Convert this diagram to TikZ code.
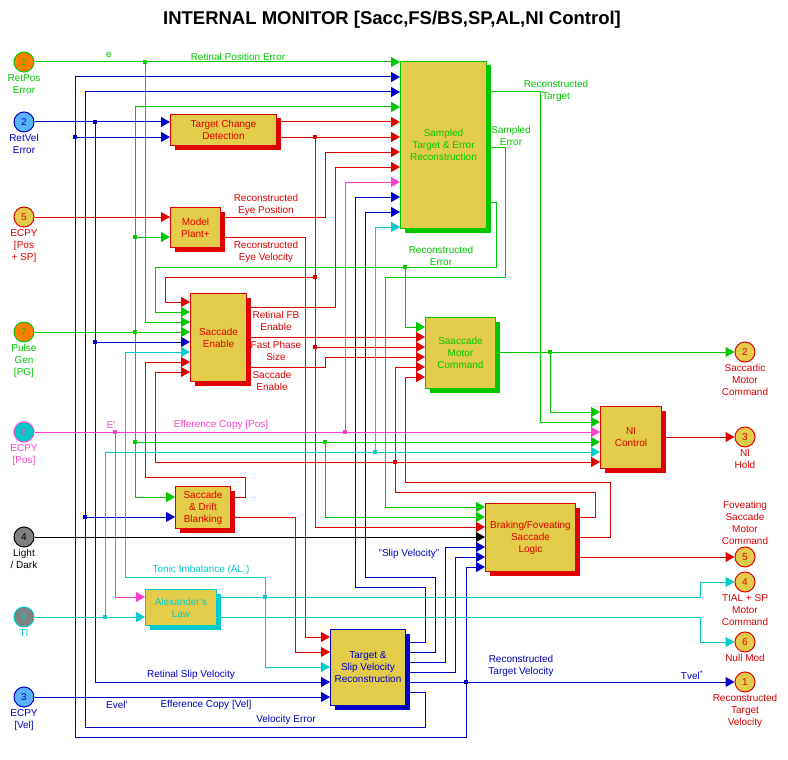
\documentclass[tikz,border=0pt]{standalone}
\usepackage{fontspec}
\setmainfont{Liberation Sans}
\usetikzlibrary{arrows.meta,positioning,shadows}

\definecolor{sred}{RGB}{224,0,0}
\definecolor{sgreen}{RGB}{0,200,0}
\definecolor{sblue}{RGB}{0,0,200}
\definecolor{smag}{RGB}{255,64,200}
\definecolor{scyan}{RGB}{0,204,204}
\definecolor{syellow}{RGB}{227,204,74}
\definecolor{sorange}{RGB}{255,128,0}
\definecolor{slblue}{RGB}{90,180,250}
\definecolor{sgray}{RGB}{128,128,128}

\newcommand\lbl{\fontsize{10}{12}\selectfont}

\tikzset{
  wire/.style={line width=1pt},
  gw/.style={wire,draw=sgreen},
  bw/.style={wire,draw=sblue},
  rw/.style={wire,draw=sred},
  mw/.style={wire,draw=smag},
  cw/.style={wire,draw=scyan},
  kw/.style={wire,draw=black},
  blk/.style={draw,fill=syellow,line width=1pt,inner sep=1pt,align=center,anchor=north west,font=\lbl},
  redblk/.style={blk,draw=sred,text=sred,drop shadow={shadow xshift=4pt,shadow yshift=-4pt,opacity=1,fill=sred}},
  grnblk/.style={blk,draw=sgreen,text=sgreen,drop shadow={shadow xshift=4pt,shadow yshift=-4pt,opacity=1,fill=sgreen}},
  blublk/.style={blk,draw=sblue,text=sblue,drop shadow={shadow xshift=4pt,shadow yshift=-4pt,opacity=1,fill=sblue}},
  cyanblk/.style={blk,draw=scyan,text=scyan,drop shadow={shadow xshift=4pt,shadow yshift=-4pt,opacity=1,fill=scyan}},
  iport/.style={circle,draw,line width=1pt,minimum size=20pt,inner sep=0pt,font=\lbl},
  oport/.style={iport,fill=syellow,draw=sred,text=sred},
  plab/.style={align=center,font=\lbl,inner sep=1pt},
  wlab/.style={align=center,font=\lbl,inner sep=0pt},
  dot/.style={rectangle,inner sep=0pt,minimum size=3.5pt}
}

\begin{document}
\begin{tikzpicture}[x=1pt,y=-1pt,>={Triangle[length=9pt,width=10pt]}]

\fill[white] (0,0) rectangle (788,760);
\useasboundingbox (0,0) rectangle (788,760);

\node[font=\fontsize{18.5}{20}\selectfont\bfseries] (title) at (392,20) {INTERNAL MONITOR [Sacc,FS/BS,SP,AL,NI Control]};

\node[iport,fill=sorange,draw=sgreen,text=sgreen] (in1) at (24,62) {1};
\node[iport,fill=slblue,draw=sblue,text=sblue] (in2) at (24,122) {2};
\node[iport,fill=syellow,draw=sred,text=sred] (in5) at (24,217) {5};
\node[iport,fill=sorange,draw=sgreen,text=sgreen] (in7) at (24,332) {7};
\node[iport,fill=scyan,draw=smag,text=smag] (in6) at (24,432) {6};
\node[iport,fill=sgray,draw=black,text=black] (in4) at (24,537) {4};
\node[iport,fill=sgray,draw=scyan,text=scyan] (in8) at (24,617) {8};
\node[iport,fill=slblue,draw=sblue,text=sblue] (in3) at (24,697) {3};

\node[plab,text=sgreen,below=1pt of in1] (in1-l) {RetPos\\Error};
\node[plab,text=sblue,below=1pt of in2] (in2-l) {RetVel\\Error};
\node[plab,text=sred,below=1pt of in5] (in5-l) {ECPY\\{}[Pos\\+ SP]};
\node[plab,text=sgreen,below=1pt of in7] (in7-l) {Pulse\\Gen\\{}[PG]};
\node[plab,text=smag,below=1pt of in6] (in6-l) {ECPY\\{}[Pos]};
\node[plab,text=black,below=1pt of in4] (in4-l) {Light\\/ Dark};
\node[plab,text=scyan,below=1pt of in8] (in8-l) {TI};
\node[plab,text=sblue,below=1pt of in3] (in3-l) {ECPY\\{}[Vel]};

\node[oport] (out2) at (745,352) {2};
\node[oport] (out3) at (745,437) {3};
\node[oport] (out5) at (745,557) {5};
\node[oport] (out4) at (745,582) {4};
\node[oport] (out6) at (745,642) {6};
\node[oport] (out1) at (745,682) {1};

\node[plab,text=sred,below=1pt of out2] (out2-l) {Saccadic\\Motor\\Command};
\node[plab,text=sred,below=1pt of out3] (out3-l) {NI\\Hold};
\node[plab,text=sred,above=1pt of out5] (out5-l) {Foveating\\Saccade\\Motor\\Command};
\node[plab,text=sred,below=1pt of out4] (out4-l) {TIAL + SP\\Motor\\Command};
\node[plab,text=sred,below=1pt of out6] (out6-l) {Null Mod};
\node[plab,text=sred,below=1pt of out1] (out1-l) {Reconstructed\\Target\\Velocity};

% block ports
\foreach \n in {1,...,12} \coordinate (samp-i\n) at (400,{47+15*\n});
\foreach \n/\y in {1/92,2/147,3/202} \coordinate (samp-o\n) at (486,\y);
\foreach \b/\xi/\xo/\ya/\yb in {tcd/170/276/122/137,mp/170/220/217/237,sdb/175/230/497/517,al/145/216/597/617} {
  \coordinate (\b-i1) at (\xi,\ya); \coordinate (\b-i2) at (\xi,\yb);
  \coordinate (\b-o1) at (\xo,\ya); \coordinate (\b-o2) at (\xo,\yb);
}
\foreach \n in {1,...,8} \coordinate (se-i\n) at (190,{292+10*\n});
\foreach \n in {1,2,3} \coordinate (se-o\n) at (246,{277+30*\n});
\foreach \n in {1,...,6} \coordinate (smc-i\n) at (425,{317+10*\n});
\coordinate (smc-o) at (495,352);
\foreach \n in {1,...,6} \coordinate (ni-i\n) at (600,{402+10*\n});
\coordinate (ni-o) at (661,437);
\foreach \n in {1,...,5} \coordinate (tsv-i\n) at (330,{622+15*\n});
\foreach \n in {1,...,6} \coordinate (tsv-o\n) at (405,{632+10*\n});
\foreach \n in {1,...,7} \coordinate (bfl-i\n) at (485,{497+10*\n});
\foreach \n in {1,2,3} \coordinate (bfl-o\n) at (575,{497+20*\n});

% green
\draw[gw,->] (in1) -- (samp-i1);
\draw[gw,->] (145,62) |- (se-i3);
\draw[gw,->] (in7) -- (se-i4);
\draw[gw,->] (135,332) |- (samp-i4);
\draw[gw,->] (135,237) -- (mp-i2);
\draw[gw,->] (135,332) |- (sdb-i1);
\draw[gw,->] (135,442) -- (ni-i4);
\draw[gw,->] (325,442) |- (bfl-i2);
\draw[gw,->] (samp-o3) -| (496,267) -- (155,267) |- (se-i2);
\draw[gw,->] (405,267) |- (smc-i1);
\draw[gw,->] (samp-o2) -| (505,277) -- (385,277) |- (bfl-i1);
\draw[gw,->] (samp-o1) -| (540,422) -- (ni-i2);
\draw[gw,->] (smc-o) -- (out2);
\draw[gw,->] (550,352) |- (ni-i1);

% blue
\draw[bw,->] (in2) -- (tcd-i1);
\draw[bw,->] (95,122) |- (tsv-i4);
\draw[bw,->] (95,342) -- (se-i5);
\draw[bw,->] (tsv-o5) -- (out1);
\draw[bw,->] (466,682) |- (bfl-i7);
\draw[bw,->] (466,682) |- (75,737) |- (samp-i2);
\draw[bw,->] (75,137) -- (tcd-i2);
\draw[bw,->] (tsv-o6) -| (425,727) -- (85,727) |- (samp-i3);
\draw[bw,->] (85,517) -- (sdb-i2);
\draw[bw,->] (tsv-o1) -| (425,587) -- (355,587) |- (samp-i10);
\draw[bw,->] (tsv-o2) -| (435,577) -- (365,577) |- (samp-i11);
\draw[bw,->] (tsv-o3) -| (445,547) -- (bfl-i5);
\draw[bw,->] (tsv-o4) -| (455,557) -- (bfl-i6);
\draw[bw,->] (in3) -- (tsv-i5);

% red
\draw[rw,->] (in5) -- (mp-i1);
\draw[rw,->] (tcd-o1) -- (samp-i5);
\draw[rw,->] (tcd-o2) -- (samp-i6);
\draw[rw,->] (315,137) |- (bfl-i3);
\draw[rw,->] (315,277) -- (165,277) |- (se-i1);
\draw[rw,->] (315,347) -- (smc-i3);
\draw[rw,->] (mp-o1) -| (325,152) -- (samp-i7);
\draw[rw,->] (mp-o2) -| (305,637) -- (tsv-i1);
\draw[rw,->] (se-o1) -| (335,167) -- (samp-i8);
\draw[rw,->] (se-o2) -- (smc-i2);
\draw[rw,->] (se-o3) -| (325,357) -- (smc-i4);
\draw[rw,->] (sdb-o1) -| (245,477) -- (145,477) |- (se-i7);
\draw[rw,->] (sdb-o2) -| (295,652) -- (tsv-i2);
\draw[rw,->] (bfl-o1) -| (595,492) -- (395,492) |- (smc-i5);
\draw[rw,->] (395,462) -- (155,462) |- (se-i8);
\draw[rw,->] (395,462) -- (ni-i6);
\draw[rw,->] (bfl-o2) -| (610,482) -- (405,482) |- (smc-i6);
\draw[rw,->] (bfl-o3) -- (out5);
\draw[rw,->] (ni-o) -- (out3);

% magenta
\draw[mw,->] (in6) -- (ni-i3);
\draw[mw,->] (345,432) |- (samp-i9);
\draw[mw,->] (115,432) |- (al-i1);

% cyan
\draw[cw,->] (in8) -- (al-i2);
\draw[cw,->] (105,617) |- (ni-i5);
\draw[cw,->] (375,452) |- (samp-i12);
\draw[cw,->] (al-o1) -| (700,582) -- (out4);
\draw[cw,->] (265,597) |- (tsv-i3);
\draw[cw,->] (265,597) |- (125,577) |- (se-i6);
\draw[cw,->] (al-o2) -| (700,642) -- (out6);

\draw[kw,->] (in4) -- (bfl-i4);

\foreach \p in {(145,62),(135,237),(135,332),(135,442),(325,442),(405,267),(550,352)}
  \node[dot,fill=sgreen] at \p {};
\foreach \p in {(95,122),(95,342),(466,682),(75,137),(85,517)}
  \node[dot,fill=sblue] at \p {};
\foreach \p in {(315,137),(315,277),(315,347),(395,462)}
  \node[dot,fill=sred] at \p {};
\foreach \p in {(345,432),(115,432)}
  \node[dot,fill=smag] at \p {};
\foreach \p in {(105,617),(375,452),(265,597)}
  \node[dot,fill=scyan] at \p {};

\node[redblk,minimum width=106pt,minimum height=31pt] (tcd) at (170,114) {Target Change\\Detection};
\node[redblk,minimum width=50pt,minimum height=40pt] (mp) at (170,207) {Model\\Plant+};
\node[grnblk,minimum width=86pt,minimum height=167pt] (samp) at (400,61) {Sampled\\Target \& Error\\Reconstruction};
\node[redblk,minimum width=56pt,minimum height=88pt] (se) at (190,293) {Saccade\\Enable};
\node[grnblk,minimum width=70pt,minimum height=71pt] (smc) at (425,317) {Saaccade\\Motor\\Command};
\node[redblk,minimum width=61pt,minimum height=62pt] (ni) at (600,406) {NI\\Control};
\node[redblk,minimum width=55pt,minimum height=42pt] (sdb) at (175,486) {Saccade\\\& Drift\\Blanking};
\node[cyanblk,minimum width=71pt,minimum height=36pt] (al) at (145,589) {Alexander's\\Law};
\node[blublk,minimum width=75pt,minimum height=76pt] (tsv) at (330,629) {Target \&\\Slip Velocity\\Reconstruction};
\node[redblk,minimum width=90pt,minimum height=68pt] (bfl) at (485,503) {Braking/Foveating\\Saccade\\Logic};

\node[wlab,text=sgreen] (l-e) at (109,55) {e};
\node[wlab,text=sgreen] (l-rpe) at (238,57) {Retinal Position Error};
\node[wlab,text=sred] (l-rep) at (266,205) {Reconstructed\\Eye Position};
\node[wlab,text=sred] (l-rev) at (266,252) {Reconstructed\\Eye Velocity};
\node[wlab,text=sgreen] (l-rt) at (556,91) {Reconstructed\\Target};
\node[wlab,text=sgreen] (l-se) at (511,136) {Sampled\\Error};
\node[wlab,text=sgreen] (l-re) at (441,256) {Reconstructed\\Error};
\node[wlab,text=sred] (l-rfb) at (276,321) {Retinal FB\\Enable};
\node[wlab,text=sred] (l-fps) at (276,351) {Fast Phase\\Size};
\node[wlab,text=sred] (l-sen) at (272,381) {Saccade\\Enable};
\node[wlab,text=smag] (l-ep) at (111,425) {E'};
\node[wlab,text=smag] (l-ecp) at (221,425) {Efference Copy [Pos]};
\node[wlab,text=scyan] (l-ti) at (201,570) {Tonic Imbalance (AL )};
\node[wlab,text=sblue] (l-slip) at (409,554) {"Slip Velocity"};
\node[wlab,text=sblue] (l-rsv) at (191,675) {Retinal Slip Velocity};
\node[wlab,text=sblue] (l-ev) at (117,705) {Evel'};
\node[wlab,text=sblue] (l-ecv) at (206,705) {Efference Copy [Vel]};
\node[wlab,text=sblue] (l-ve) at (286,720) {Velocity Error};
\node[wlab,text=sblue] (l-rtv) at (521,666) {Reconstructed\\Target Velocity};
\node[wlab,text=sblue] (l-tv) at (692,675) {Tvel\textsuperscript{*}};
\end{tikzpicture}
\end{document}
